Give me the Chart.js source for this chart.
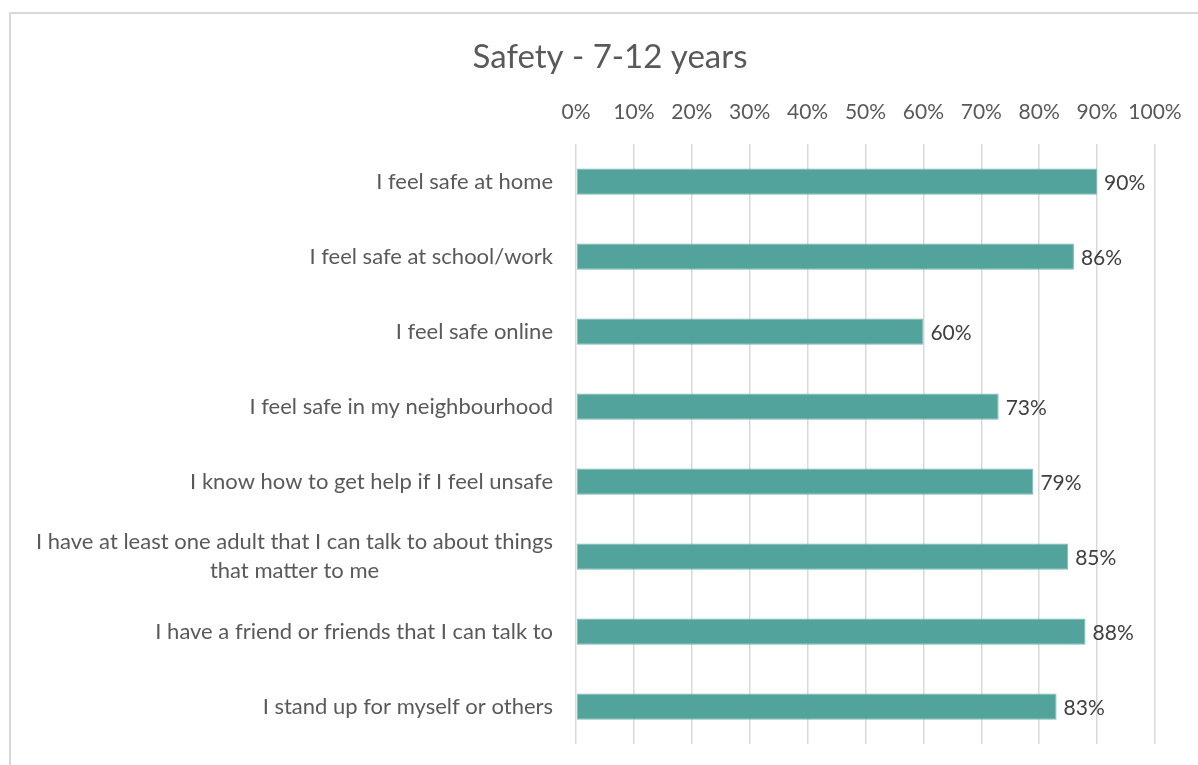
<!DOCTYPE html>
<html>
<head>
<meta charset="utf-8">
<script src="https://cdn.jsdelivr.net/npm/chart.js@4"></script>
<style>
  html, body { margin: 0; padding: 0; background: #fff; overflow: hidden; }
  #frame { position: absolute; left: 9px; top: 12px; width: 1300px; height: 900px; border: 2px solid #d9d9d9; box-sizing: border-box; }
  #wrap { position: absolute; left: 0; top: 0; width: 1198px; height: 765px; }
</style>
</head>
<body>
<div id="frame"></div>
<div id="wrap"><canvas id="chart"></canvas></div>
<script>
// categories and values
const labels = [
    "I feel safe at home",
    "I feel safe at school/work",
    "I feel safe online",
    "I feel safe in my neighbourhood",
    "I know how to get help if I feel unsafe",
    ["I have at least one adult that I can talk to about things", "that matter to me"],
    "I have a friend or friends that I can talk to",
    "I stand up for myself or others"
];
const values = [90, 86, 60, 73, 79, 85, 88, 83];
const tickValues = [0, 10, 20, 30, 40, 50, 60, 70, 80, 90, 100];
const chartTitle = 'Safety - 7-12 years';

const FONT = "Lato";
const LABEL_PAD = 23;
const LINE_H = 22 * 1.3;

// title, centred a little right of the page middle like the original
const titlePlugin = {
    id: 'titlePlugin',
    beforeDraw(chart) {
        const ctx = chart.ctx;
        ctx.save();
        ctx.font = "33px " + FONT;
        ctx.fillStyle = '#595959';
        ctx.textAlign = 'center';
        ctx.textBaseline = 'middle';
        ctx.fillText(chartTitle, 610, 57);
        ctx.restore();
    }
};

// wrapped category labels: lines centred on each other, block right aligned
const wrappedLabels = {
    id: 'wrappedLabels',
    afterDraw(chart) {
        const ctx = chart.ctx;
        const y = chart.scales.y;
        ctx.save();
        ctx.font = "22px " + FONT;
        ctx.fillStyle = '#595959';
        ctx.textAlign = 'center';
        ctx.textBaseline = 'middle';
        labels.forEach((lab, i) => {
            if (!Array.isArray(lab)) return;
            const w = Math.max(...lab.map(s => ctx.measureText(s).width));
            const cx = y.right - LABEL_PAD - w / 2;
            const cy = y.getPixelForTick(i);
            lab.forEach((s, j) => {
                ctx.fillText(s, cx, cy + (j - (lab.length - 1) / 2) * LINE_H);
            });
        });
        ctx.restore();
    }
};

// draw the % label just past each bar end
const barLabels = {
    id: 'barLabels',
    afterDatasetsDraw(chart) {
        const ctx = chart.ctx;
        const meta = chart.getDatasetMeta(0);
        ctx.save();
        ctx.font = "21px " + FONT;
        ctx.fillStyle = '#404040';
        ctx.textBaseline = 'middle';
        ctx.textAlign = 'left';
        meta.data.forEach((bar, i) => {
            ctx.fillText(values[i] + '%', bar.x + 7, bar.y + 2);
        });
        ctx.restore();
    }
};

new Chart(document.getElementById('chart'), {
    type: 'bar',
    data: {
        labels: labels,
        datasets: [{
            data: values,
            backgroundColor: '#51a39b',
            borderColor: '#7dbab4',
            borderWidth: 1,
            borderSkipped: false,
            barPercentage: 0.35,
            categoryPercentage: 1.0
        }]
    },
    options: {
        indexAxis: 'y',
        responsive: true,
        maintainAspectRatio: false,
        animation: false,
        layout: { padding: { left: 0, right: 43, top: 78, bottom: 21 } },
        plugins: {
            legend: { display: false },
            tooltip: { enabled: false },
            title: { display: false }
        },
        scales: {
            x: {
                position: 'top',
                min: 0, max: 100,
                afterBuildTicks(scale) { scale.ticks = tickValues.map(v => ({ value: v })); },
                afterFit(scale) { scale.height = 66; scale.paddingLeft = 0; scale.paddingRight = 0; },
                grid: { color: '#d9d9d9', lineWidth: 1.5, drawTicks: false, tickLength: 0 },
                border: { display: false },
                ticks: {
                    padding: 19,
                    maxRotation: 0,
                    minRotation: 0,
                    autoSkip: false,
                    color: '#595959',
                    font: { family: FONT, size: 21 },
                    callback: v => v + '%'
                }
            },
            y: {
                afterFit(scale) { scale.width = 576; scale.paddingTop = 0; scale.paddingBottom = 0; },
                grid: { display: false, drawTicks: false },
                border: { display: false },
                ticks: {
                    padding: LABEL_PAD,
                    color: ctx => Array.isArray(labels[ctx.index]) ? 'rgba(0,0,0,0)' : '#595959',
                    font: { family: FONT, size: 22, lineHeight: 1.3 }
                }
            }
        }
    },
    plugins: [titlePlugin, barLabels, wrappedLabels]
});
</script>
</body>
</html>
